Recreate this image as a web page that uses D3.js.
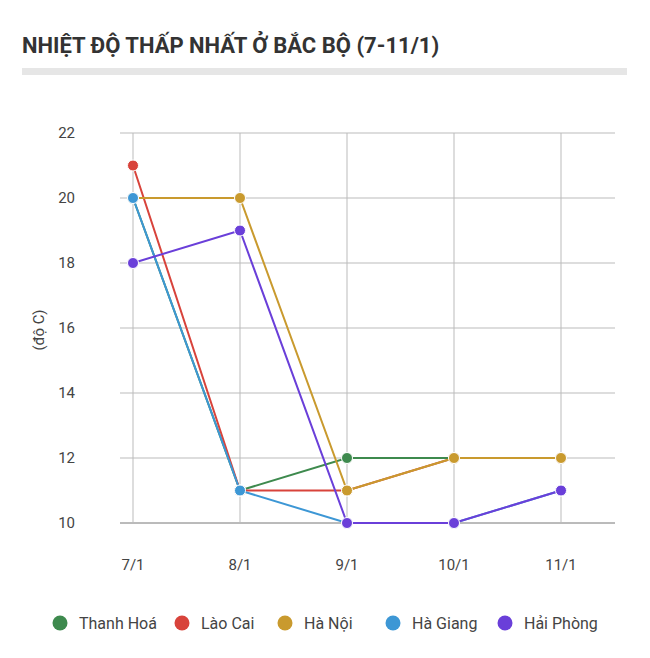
<!DOCTYPE html>
<html><head><meta charset="utf-8">
<script src="https://cdn.jsdelivr.net/npm/d3@7"></script>
<style>body{margin:0;background:#fff;font-family:Roboto,sans-serif}</style>
</head><body>
<script>
//data
var dates = ['7/1', '8/1', '9/1', '10/1', '11/1'];
var names = ['Thanh Hoá', 'Lào Cai', 'Hà Nội', 'Hà Giang', 'Hải Phòng'];
var colors = ['#3e8a4e', '#d8433b', '#c99a2e', '#3d97d5', '#6a3fd9'];
var thanhHoa = [20, 11, 12, 12, 12];
var laoCai = [21, 11, 11, 12, 12];
var haNoi = [20, 20, 11, 12, 12];
var haGiang = [20, 11, 10, 10, 11];
var haiPhong = [18, 19, 10, 10, 11];
var yTicks = [10, 12, 14, 16, 18, 20, 22];
var series = [thanhHoa, laoCai, haNoi, haGiang, haiPhong];

var svg = d3.select('body').append('svg').attr('width', 650).attr('height', 658);

//title
svg.append('text').attr('x', 22).attr('y', 53).text('NHIỆT ĐỘ THẤP NHẤT Ở BẮC BỘ (7-11/1)')
  .style('font-size', '22px').style('font-weight', 'bold').style('fill', '#333');
svg.append('rect').attr('x', 22).attr('y', 68).attr('width', 605).attr('height', 7).attr('fill', '#e6e6e6');

//scales
var x = d3.scalePoint().domain(dates).range([133, 561]);
var y = d3.scaleLinear().domain([10, 22]).range([523, 133]);

//grid
svg.selectAll('.hg').data(yTicks).enter().append('line')
  .attr('x1', 120).attr('x2', 615).attr('y1', y).attr('y2', y)
  .attr('stroke', function(d) { return d === 10 ? '#777' : '#bbb'; }).attr('stroke-width', 1);
svg.selectAll('.vg').data(dates).enter().append('line')
  .attr('x1', x).attr('x2', x).attr('y1', 133).attr('y2', 523)
  .attr('stroke', '#bbb');

svg.selectAll('.yl').data(yTicks).enter().append('text')
  .attr('x', 75).attr('y', function(d) { return y(d) + 5; }).attr('text-anchor', 'end')
  .text(function(d) { return d; }).style('font-size', '15px').style('fill', '#444');
svg.selectAll('.xl').data(dates).enter().append('text')
  .attr('x', x).attr('y', 570).attr('text-anchor', 'middle')
  .text(function(d) { return d; }).style('font-size', '15px').style('fill', '#444');
svg.append('text').attr('transform', 'translate(44,330) rotate(-90)').attr('text-anchor', 'middle')
  .text('(độ C)').style('font-size', '15px').style('fill', '#444');

//lines
var line = d3.line().x(function(d, i) { return x(dates[i]); }).y(function(d) { return y(d); });
series.forEach(function(s, k) {
  svg.append('path').datum(s).attr('d', line).attr('fill', 'none')
    .attr('stroke', colors[k]).attr('stroke-width', 2);
  svg.selectAll('.p' + k).data(s).enter().append('circle')
    .attr('cx', function(d, i) { return x(dates[i]); }).attr('cy', y).attr('r', 5.5)
    .attr('fill', colors[k]).attr('stroke', '#fff').attr('stroke-width', 1);
});

//legend
var lx = [60, 182, 285, 393, 505];
names.forEach(function(n, k) {
  svg.append('circle').attr('cx', lx[k]).attr('cy', 623).attr('r', 7.5).attr('fill', colors[k]);
  svg.append('text').attr('x', lx[k] + 19).attr('y', 629).text(n)
    .style('font-size', '16px').style('fill', '#444');
});
</script>
</body></html>
